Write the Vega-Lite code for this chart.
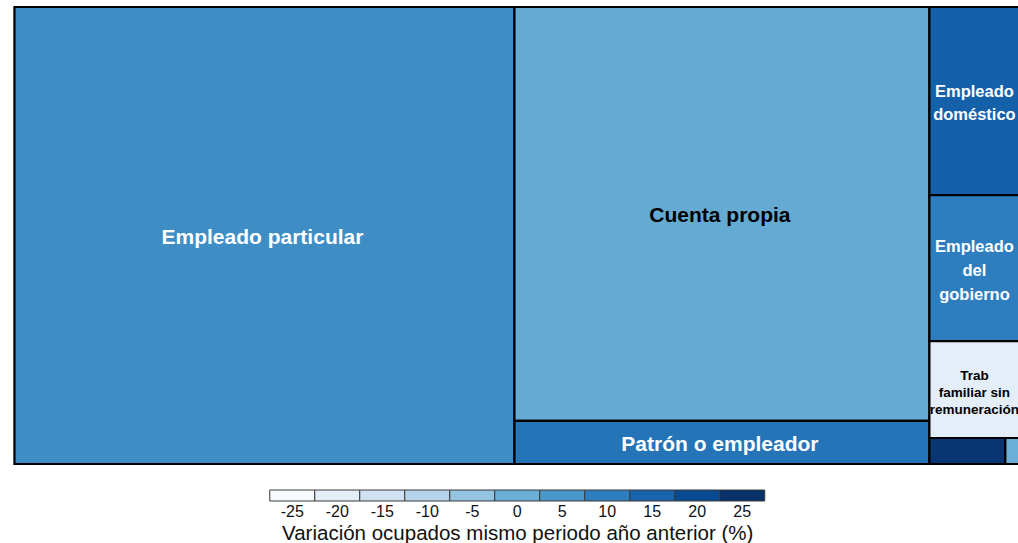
{
  "$schema": "https://vega.github.io/schema/vega-lite/v6.json",
  "padding": {"left": 13, "top": 5, "right": 0, "bottom": 0},
  "background": "white",
  "config": {"view": {"stroke": null}, "font": "Liberation Sans"},
  "spacing": 23,
  "center": true,
  "resolve": {"scale": {"color": "independent"}},
  "vconcat": [
    {
      "width": 1005,
      "height": 457,
      "data": {
        "values": [
          {"posicion": "Empleado particular", "label": "Empleado particular", "share": 49.75, "variation": 7, "col": 1, "row": 1, "cell": 1},
          {"posicion": "Cuenta propia", "label": "Cuenta propia", "share": 37.40, "variation": 1, "col": 2, "row": 1, "cell": 1},
          {"posicion": "Patrón o empleador", "label": "Patrón o empleador", "share": 3.89, "variation": 12, "col": 2, "row": 2, "cell": 1},
          {"posicion": "Empleado doméstico", "label": "Empleado\ndoméstico", "share": 3.69, "variation": 15.5, "col": 3, "row": 1, "cell": 1},
          {"posicion": "Empleado del gobierno", "label": "Empleado\ndel\ngobierno", "share": 2.86, "variation": 10, "col": 3, "row": 2, "cell": 1},
          {"posicion": "Trab familiar sin remuneración", "label": "Trab\nfamiliar sin\nremuneración", "share": 1.90, "variation": -20, "col": 3, "row": 3, "cell": 1},
          {"posicion": "Jornalero o peón", "label": "Jornalero o peón", "share": 0.43, "variation": 24, "col": 3, "row": 4, "cell": 1},
          {"posicion": "Otro", "label": "Otro", "share": 0.08, "variation": 0, "col": 3, "row": 4, "cell": 2}
        ]
      },
      "transform": [
        {"joinaggregate": [{"op": "sum", "field": "share", "as": "total"}]},
        {"joinaggregate": [{"op": "sum", "field": "share", "as": "colsum"}], "groupby": ["col"]},
        {"joinaggregate": [{"op": "sum", "field": "share", "as": "rowsum"}], "groupby": ["col", "row"]},
        {"window": [{"op": "sum", "field": "share", "as": "xcum"}], "sort": [{"field": "col"}], "frame": [null, 0], "ignorePeers": false},
        {"window": [{"op": "sum", "field": "share", "as": "ycum"}], "groupby": ["col"], "sort": [{"field": "row"}], "frame": [null, 0], "ignorePeers": false},
        {"window": [{"op": "sum", "field": "share", "as": "ccum"}], "groupby": ["col", "row"], "sort": [{"field": "cell"}], "frame": [null, 0], "ignorePeers": false},
        {"calculate": "(datum.xcum - datum.colsum) / datum.total", "as": "cx0"},
        {"calculate": "datum.xcum / datum.total", "as": "cx1"},
        {"calculate": "datum.cx0 + (datum.cx1 - datum.cx0) * (datum.ccum - datum.share) / datum.rowsum", "as": "x0"},
        {"calculate": "datum.cx0 + (datum.cx1 - datum.cx0) * datum.ccum / datum.rowsum", "as": "x1"},
        {"calculate": "(datum.ycum - datum.rowsum) / datum.colsum", "as": "y0"},
        {"calculate": "datum.ycum / datum.colsum", "as": "y1"},
        {"calculate": "(datum.x0 + datum.x1) / 2", "as": "xm"},
        {"calculate": "(datum.y0 + datum.y1) / 2", "as": "ym"}
      ],
      "encoding": {
        "x": {"field": "x0", "type": "quantitative", "scale": {"domain": [0, 1], "nice": false, "zero": false}, "axis": null},
        "y": {"field": "y0", "type": "quantitative", "scale": {"domain": [0, 1], "nice": false, "zero": false, "reverse": true}, "axis": null}
      },
      "layer": [
        {
          "mark": {"type": "rect", "stroke": "#000000", "strokeWidth": 2.2},
          "encoding": {
            "x2": {"field": "x1"},
            "y2": {"field": "y1"},
            "color": {
              "field": "variation",
              "type": "quantitative",
              "scale": {
                "domain": [-25, -20, -15, -10, -5, 0, 5, 10, 15, 20, 25],
                "range": ["#f7fbff", "#e3eef9", "#d0e1f2", "#b6d4e9", "#94c4df", "#6baed6", "#4a98c9", "#2e7ebf", "#1764ab", "#084a92", "#08306b"]
              },
              "legend": null
            },
            "tooltip": [{"field": "posicion", "type": "nominal"}, {"field": "variation", "type": "quantitative"}]
          }
        },
        {
          "transform": [{"filter": "datum.col < 3"}],
          "mark": {"type": "text", "fontSize": 21, "fontWeight": "bold", "align": "center", "baseline": "middle", "dx": -2, "dy": 2.5, "font": "Liberation Sans"},
          "encoding": {
            "x": {"field": "xm", "type": "quantitative"},
            "y": {"field": "ym", "type": "quantitative"},
            "text": {"field": "label"},
            "color": {"condition": {"test": "datum.variation < 3", "value": "#000000"}, "value": "#ffffff"}
          }
        },
        {
          "transform": [{"filter": "datum.col == 3 && datum.row == 1"}],
          "mark": {"type": "text", "fontSize": 16.5, "lineHeight": 23.5, "lineBreak": "\n", "fontWeight": "bold", "align": "center", "baseline": "middle", "dy": -9.5, "font": "Liberation Sans"},
          "encoding": {
            "x": {"field": "xm", "type": "quantitative"},
            "y": {"field": "ym", "type": "quantitative"},
            "text": {"field": "label"},
            "color": {"condition": {"test": "datum.variation < 3", "value": "#000000"}, "value": "#ffffff"}
          }
        },
        {
          "transform": [{"filter": "datum.col == 3 && datum.row == 2"}],
          "mark": {"type": "text", "fontSize": 16.5, "lineHeight": 24, "lineBreak": "\n", "fontWeight": "bold", "align": "center", "baseline": "middle", "dy": -21.5, "font": "Liberation Sans"},
          "encoding": {
            "x": {"field": "xm", "type": "quantitative"},
            "y": {"field": "ym", "type": "quantitative"},
            "text": {"field": "label"},
            "color": {"condition": {"test": "datum.variation < 3", "value": "#000000"}, "value": "#ffffff"}
          }
        },
        {
          "transform": [{"filter": "datum.col == 3 && datum.row == 3"}],
          "mark": {"type": "text", "fontSize": 13.5, "lineHeight": 17, "lineBreak": "\n", "fontWeight": "bold", "align": "center", "baseline": "middle", "dy": -13.5, "font": "Liberation Sans"},
          "encoding": {
            "x": {"field": "xm", "type": "quantitative"},
            "y": {"field": "ym", "type": "quantitative"},
            "text": {"field": "label"},
            "color": {"condition": {"test": "datum.variation < 3", "value": "#000000"}, "value": "#ffffff"}
          }
        }
      ]
    },
    {
      "width": 495,
      "height": 11,
      "data": {"values": [{"v": -25}, {"v": -20}, {"v": -15}, {"v": -10}, {"v": -5}, {"v": 0}, {"v": 5}, {"v": 10}, {"v": 15}, {"v": 20}, {"v": 25}]},
      "mark": {"type": "rect", "stroke": "#3a3a3a", "strokeWidth": 1},
      "encoding": {
        "x": {
          "field": "v",
          "type": "ordinal",
          "sort": "ascending",
          "scale": {"paddingInner": 0, "paddingOuter": 0},
          "axis": {
            "title": "Variación ocupados mismo periodo año anterior (%)",
            "labelExpr": "'' + datum.value",
            "labelAngle": 0,
            "ticks": false,
            "domain": false,
            "labelFontSize": 16,
            "labelColor": "#111111",
            "labelPadding": 2,
            "labelFont": "Liberation Sans",
            "titleFont": "Liberation Sans",
            "titleFontSize": 20.5,
            "titleFontWeight": "normal",
            "titleColor": "#111111",
            "titlePadding": 4
          }
        },
        "color": {
          "field": "v",
          "type": "quantitative",
          "scale": {
            "domain": [-25, -20, -15, -10, -5, 0, 5, 10, 15, 20, 25],
            "range": ["#f7fbff", "#e3eef9", "#d0e1f2", "#b6d4e9", "#94c4df", "#6baed6", "#4a98c9", "#2e7ebf", "#1764ab", "#084a92", "#08306b"]
          },
          "legend": null
        }
      }
    }
  ]
}
